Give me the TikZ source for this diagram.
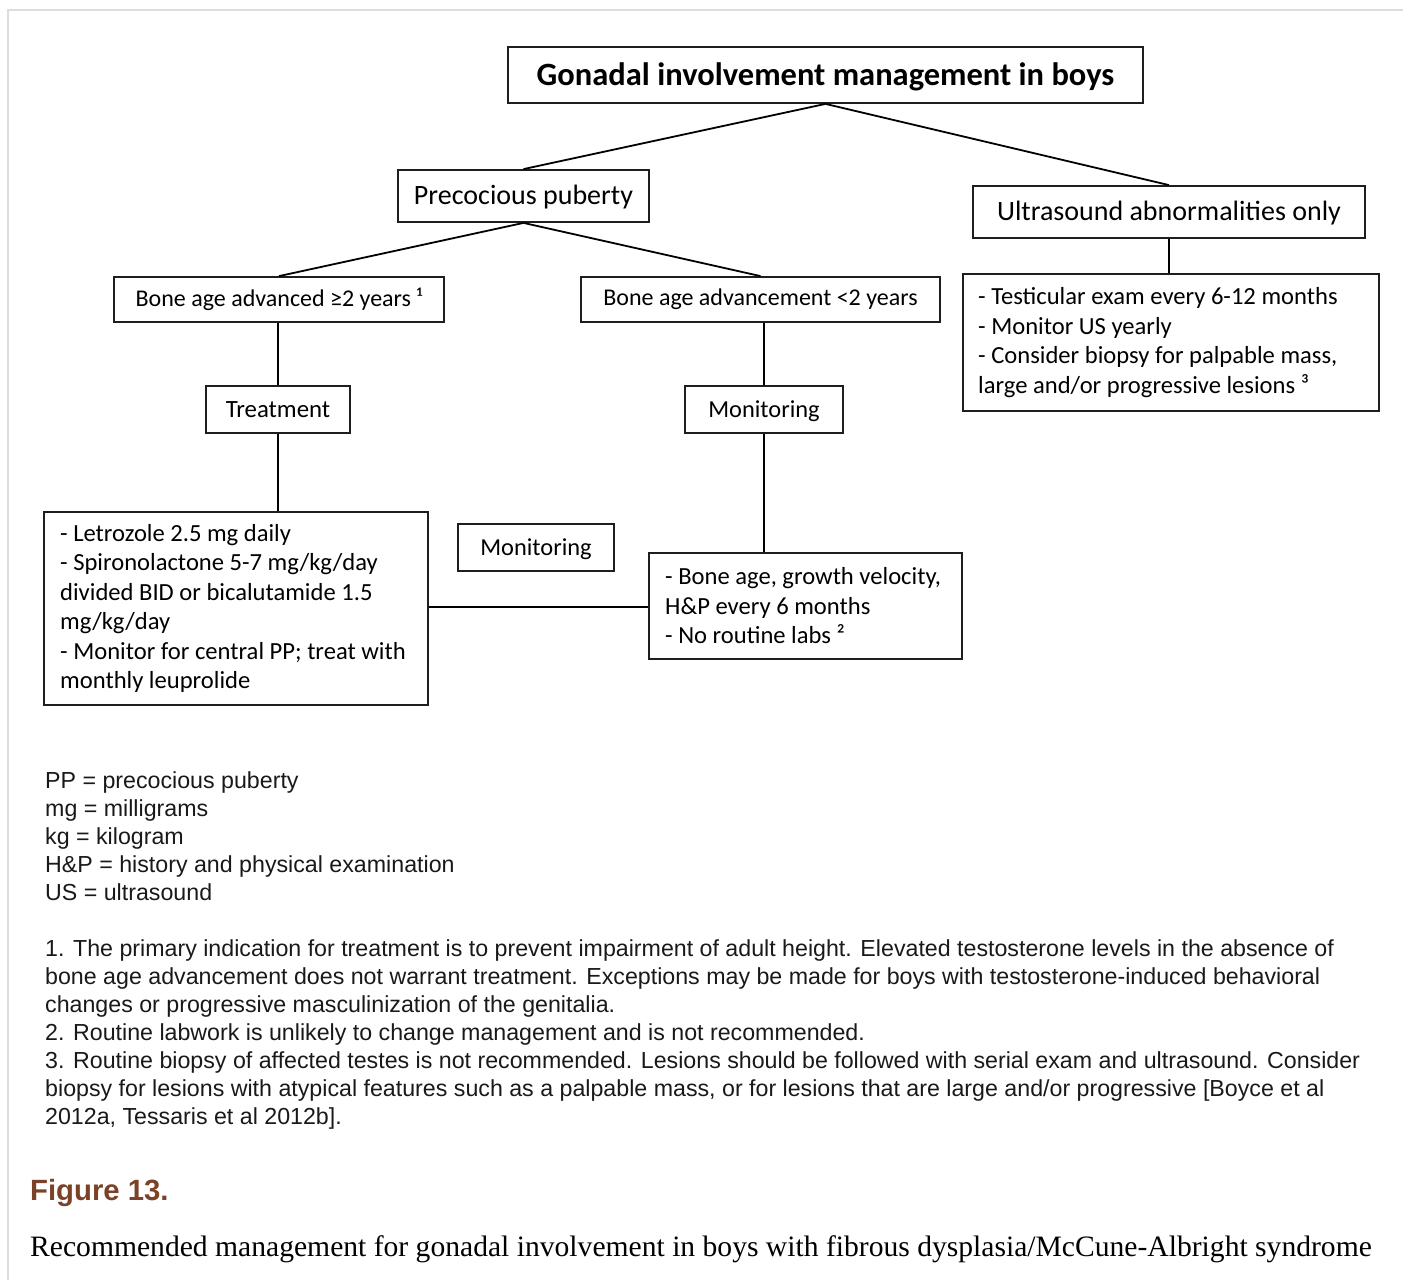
\documentclass[tikz,border=0pt]{standalone}
\usepackage{fontspec}
\setmainfont{Carlito}
\newfontfamily\calf{Carlito}
\newfontfamily\arialf{Liberation Sans}
\newfontfamily\timesf{Liberation Serif}
\definecolor{figbrown}{RGB}{122,66,38}
\definecolor{framegray}{RGB}{221,221,221}
\definecolor{boxline}{RGB}{30,30,30}
\newcommand\mylower[1]{\raisebox{-1.5pt}[\height][\depth]{#1}}
\begin{document}
\begin{tikzpicture}[x=1pt,y=-1pt,
  box/.style={draw=boxline, line width=1.8pt, inner sep=0pt, font=\calf\fontsize{24}{29.5}\selectfont},
  frame/.style={draw=boxline, line width=1.8pt, inner sep=0pt, anchor=north west},
  btext/.style={anchor=west, align=left, inner sep=0pt, font=\calf\fontsize{24.6}{29.5}\selectfont},
  conn/.style={draw=black, line width=1.8pt},
  note/.style={anchor=base west, inner sep=0pt, font=\arialf\fontsize{23.2}{28}\selectfont, text=black!90},
]
\useasboundingbox (0,0) rectangle (1403,1280);
% frame
\draw[framegray, line width=2pt] (8,1280) -- (8,10) -- (1403,10);

% boxes
\node[box, font=\calf\bfseries\fontsize{32.5}{38}\selectfont, minimum width=635, minimum height=56] (title) at (825.5,75) {\mylower{Gonadal involvement management in boys}};
\node[box, font=\calf\fontsize{28}{33}\selectfont, minimum width=251, minimum height=52] (pp) at (523.5,196) {\mylower{Precocious puberty}};
\node[box, font=\calf\fontsize{28}{33}\selectfont, minimum width=392, minimum height=52] (us) at (1169,212) {\mylower{Ultrasound abnormalities only}};
\node[box, minimum width=330, minimum height=45] (ba1) at (279,299.5) {Bone age advanced ≥2 years ¹};
\node[box, minimum width=359, minimum height=45] (ba2) at (760.5,299.5) {Bone age advancement <2 years};
\node[box, font=\calf\fontsize{24.8}{30}\selectfont, minimum width=144, minimum height=47] (treat) at (278,409.5) {Treatment};
\node[box, font=\calf\fontsize{24.4}{30}\selectfont, minimum width=158, minimum height=47] (mon1) at (764,409.5) {\mylower{Monitoring}};
\node[box, font=\calf\fontsize{24.4}{30}\selectfont, minimum width=156, minimum height=47] (mon2) at (536,547.5) {\mylower{Monitoring}};

\node[frame, minimum width=384, minimum height=193] (rx) at (43,511) {};
\node[btext] (rxt) at ([xshift=17pt]rx.west) {- Letrozole 2.5 mg daily\\- Spironolactone 5-7 mg/kg/day\\divided BID or bicalutamide 1.5\\mg/kg/day\\- Monitor for central PP; treat with\\monthly leuprolide};
\node[frame, minimum width=313, minimum height=106] (bg) at (648,552) {};
\node[btext] (bgt) at ([xshift=17pt]bg.west) {- Bone age, growth velocity,\\H\&P every 6 months\\- No routine labs ²};
\node[frame, minimum width=416, minimum height=137] (usx) at (962,273) {};
\node[btext] (usxt) at ([xshift=16pt]usx.west) {- Testicular exam every 6-12 months\\- Monitor US yearly\\- Consider biopsy for palpable mass,\\large and/or progressive lesions ³};

% connectors
\draw[conn] (title.south) -- (pp.north);
\draw[conn] (title.south) -- (us.north);
\draw[conn] (pp.south) -- (ba1.north);
\draw[conn] (pp.south) -- (ba2.north);
\draw[conn] (ba1.south -| treat.north) -- (treat.north);
\draw[conn] (treat.south) -- (treat.south |- rx.north);
\draw[conn] (ba2.south -| mon1.north) -- (mon1.north);
\draw[conn] (mon1.south) -- (mon1.south |- bg.north);
\draw[conn] (us.south) -- (us.south |- usx.north);
\draw[conn] (rx.east |- 0,607) -- (bg.west |- 0,607);

% abbreviations
\node[note] (a1) at (45,788) {PP = precocious puberty};
\node[note] (a2) at (45,816) {mg = milligrams};
\node[note] (a3) at (45,844) {kg = kilogram};
\node[note] (a4) at (45,872) {H\&P = history and physical examination};
\node[note] (a5) at (45,900) {US = ultrasound};

% numbered notes
\node[note] (f1) at (45,956) {1. The primary indication for treatment is to prevent impairment of adult height. Elevated testosterone levels in the absence of};
\node[note] (f2) at (45,984) {bone age advancement does not warrant treatment. Exceptions may be made for boys with testosterone-induced behavioral};
\node[note] (f3) at (45,1012) {changes or progressive masculinization of the genitalia.};
\node[note] (f4) at (45,1040) {2. Routine labwork is unlikely to change management and is not recommended.};
\node[note] (f5) at (45,1068) {3. Routine biopsy of affected testes is not recommended. Lesions should be followed with serial exam and ultrasound. Consider};
\node[note] (f6) at (45,1096) {biopsy for lesions with atypical features such as a palpable mass, or for lesions that are large and/or progressive [Boyce et al};
\node[note] (f7) at (45,1124) {2012a, Tessaris et al 2012b].};

% caption
\node[anchor=base west, inner sep=0pt, font=\arialf\bfseries\fontsize{29.3}{34}\selectfont, text=figbrown] (fig) at (30,1200) {Figure 13.};
\node[anchor=base west, inner sep=0pt, font=\timesf\fontsize{29.6}{34}\selectfont] (cap) at (30,1256) {Recommended management for gonadal involvement in boys with fibrous dysplasia/McCune-Albright syndrome};
\end{tikzpicture}
\end{document}
